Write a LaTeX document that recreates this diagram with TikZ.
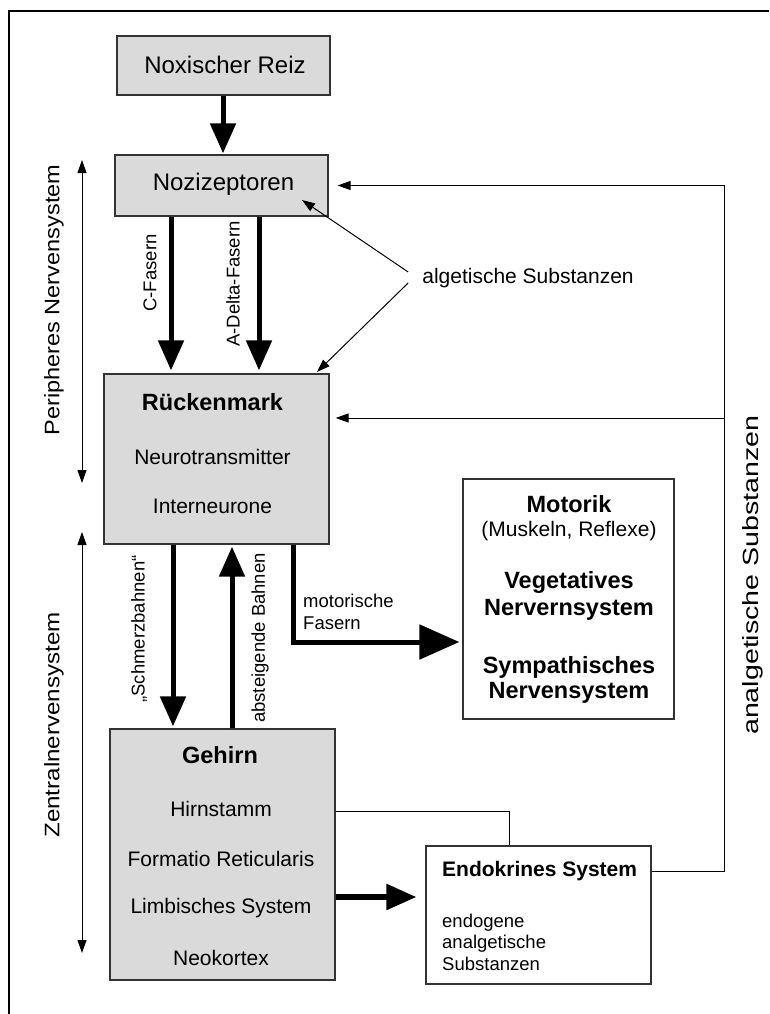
\documentclass[tikz,border=0pt]{standalone}
\usepackage{fontspec}
\setmainfont{Liberation Sans}
\usetikzlibrary{arrows.meta}
\definecolor{boxgray}{HTML}{DADADA}
\definecolor{edge}{HTML}{333333}
\tikzset{
  box/.style={draw=edge, line width=1.2pt, inner sep=0pt},
  graybox/.style={box, fill=boxgray},
  whitebox/.style={box, fill=white},
  txt/.style={inner sep=0pt, font=\fontsize{21}{25}\selectfont},
  toptxt/.style={inner sep=0pt, font=\fontsize{24}{28}\selectfont},
  btxt/.style={inner sep=0pt, font=\fontsize{23.5}{28}\selectfont\bfseries},
  small/.style={inner sep=0pt, font=\fontsize{18.5}{21.5}\selectfont},
  side/.style={inner sep=0pt, font=\fontsize{21}{25}\selectfont, rotate=90},
  bigarrow/.style={line width=5pt, -{Triangle[length=30pt,width=25pt]}},
  hugearrow/.style={line width=5pt, -{Triangle[length=40pt,width=34pt]}},
  thinarrow/.style={line width=1pt, -{Triangle[length=13pt,width=9pt]}},
  span/.style={line width=1pt, {Triangle[length=13pt,width=9pt]}-{Triangle[length=13pt,width=9pt]}},
}
\begin{document}
\begin{tikzpicture}[x=1pt, y=-1pt]
\useasboundingbox (0,0) rectangle (769,1014);

% frame
\draw[line width=1.2pt] (9,1014) -- (9,11) -- (769,11);

% boxes
\node[graybox, minimum width=213pt, minimum height=59pt] (nox) at (223.5,65.5) {};
\node[graybox, minimum width=213pt, minimum height=61pt] (noz) at (221.5,185.5) {};
\node[graybox, minimum width=225pt, minimum height=170pt] (rm) at (216.5,459) {};
\node[graybox, minimum width=225pt, minimum height=251pt] (gh) at (222.5,854.5) {};
\node[whitebox, minimum width=211pt, minimum height=240pt] (mot) at (568.5,599) {};
\node[whitebox, minimum width=225pt, minimum height=138pt] (endo) at (538.5,915) {};

% box texts
\node[toptxt] (noxT) at (225,65) {Noxischer Reiz};
\node[toptxt] (nozT) at (223.5,184) {Nozizeptoren};
\node[btxt] (rmT) at (212.5,402) {Rückenmark};
\node[txt] (rmT2) at (212.5,457) {Neurotransmitter};
\node[txt] (rmT3) at (212.5,506) {Interneurone};
\node[btxt] (ghT) at (220,755) {Gehirn};
\node[txt] (ghT2) at (221,809) {Hirnstamm};
\node[txt] (ghT3) at (221,859) {Formatio Reticularis};
\node[txt] (ghT4) at (221,908) {Limbisches System};
\node[txt] (ghT5) at (221,958) {Neokortex};
\node[btxt] (motT) at (569,504) {Motorik};
\node[txt] (motT2) at (569,531) {(Muskeln, Reflexe)};
\node[btxt] (motT3) at (569,582) {Vegetatives};
\node[btxt] (motT4) at (569,610) {Nervernsystem};
\node[btxt] (motT5) at (569,667) {Sympathisches};
\node[btxt] (motT6) at (569,693) {Nervensystem};
\node[inner sep=0pt, font=\fontsize{21}{25}\selectfont\bfseries, anchor=west] (endoT) at (442,871) {Endokrines System};
\node[small, anchor=west, align=left] (endoT2) at (442,942) {endogene\\analgetische\\Substanzen};

% column and row helpers
\coordinate (cN) at (223,0);
\coordinate (cC) at (171,0);
\coordinate (cA) at (259,0);
\coordinate (cS) at (173,0);
\coordinate (cB) at (232,0);
\coordinate (cM) at (293,0);
\coordinate (cR) at (724,0);
\coordinate (c509) at (509,0);
\coordinate (yMot) at (0,642);
\coordinate (yEnd) at (0,897);
\coordinate (yHirn) at (0,811);
\coordinate (yEndo) at (0,871);
\coordinate (yRm) at (0,418);

% main pathways
\draw[bigarrow, shorten >=1pt] (nox.south -| cN) -- (noz.north -| cN);
\draw[bigarrow, shorten >=3pt] (noz.south -| cC) -- (rm.north -| cC);
\draw[bigarrow, shorten >=3pt] (noz.south -| cA) -- (rm.north -| cA);
\draw[bigarrow, shorten >=2pt] (rm.south -| cS) -- (gh.north -| cS);
\draw[bigarrow, shorten >=2pt] (gh.north -| cB) -- (rm.south -| cB);
\draw[hugearrow, shorten >=3pt] (rm.south -| cM) |- (mot.west |- yMot);
\draw[bigarrow, line width=5.5pt, shorten >=9pt] (gh.east |- yEnd) -- (endo.west |- yEnd);

% fibre labels
\node[small, rotate=90] (lC) at (150,273) {C-Fasern};
\node[small, rotate=90] (lA) at (233,284) {A-Delta-Fasern};
\node[small, rotate=90] (lS) at (139,629) {„Schmerzbahnen“};
\node[small, rotate=90] (lB) at (260,638) {absteigende Bahnen};
\node[small, anchor=west, align=left] (lM) at (303,612) {motorische\\Fasern};

% algetic substances
\node[txt] (alg) at (528,278) {algetische Substanzen};
\coordinate (pN) at (302,200);
\coordinate (pR) at (317,372);
\draw[thinarrow] ([xshift=-14pt, yshift=6pt]alg.west) -- (pN);
\draw[thinarrow] ([xshift=-14pt, yshift=-5pt]alg.west) -- (pR);

% endocrine feedback
\draw[line width=1pt] (gh.east |- yHirn) -| (endo.north -| c509);
\draw[thinarrow, shorten >=9pt] (endo.east |- yEndo) -| (cR |- noz.east) -- (noz.east);
\draw[thinarrow, shorten >=6pt] (cR |- yRm) -- (rm.east |- yRm);
\node[inner sep=0pt, font=\fontsize{22}{26}\selectfont, rotate=90, xscale=1.3] (ana) at (753,575) {analgetische Substanzen};

% nervous system spans
\coordinate (pT) at (82,160);
\coordinate (pB) at (82,483);
\coordinate (zT) at (82,532);
\coordinate (zB) at (82,953);
\draw[span] (pT) -- (pB);
\draw[span] (zT) -- (zB);
\node[side, xscale=1.12] (pL) at (54,300) {Peripheres Nervensystem};
\node[side, xscale=1.15] (zL) at (54,725) {Zentralnervensystem};
\end{tikzpicture}
\end{document}
